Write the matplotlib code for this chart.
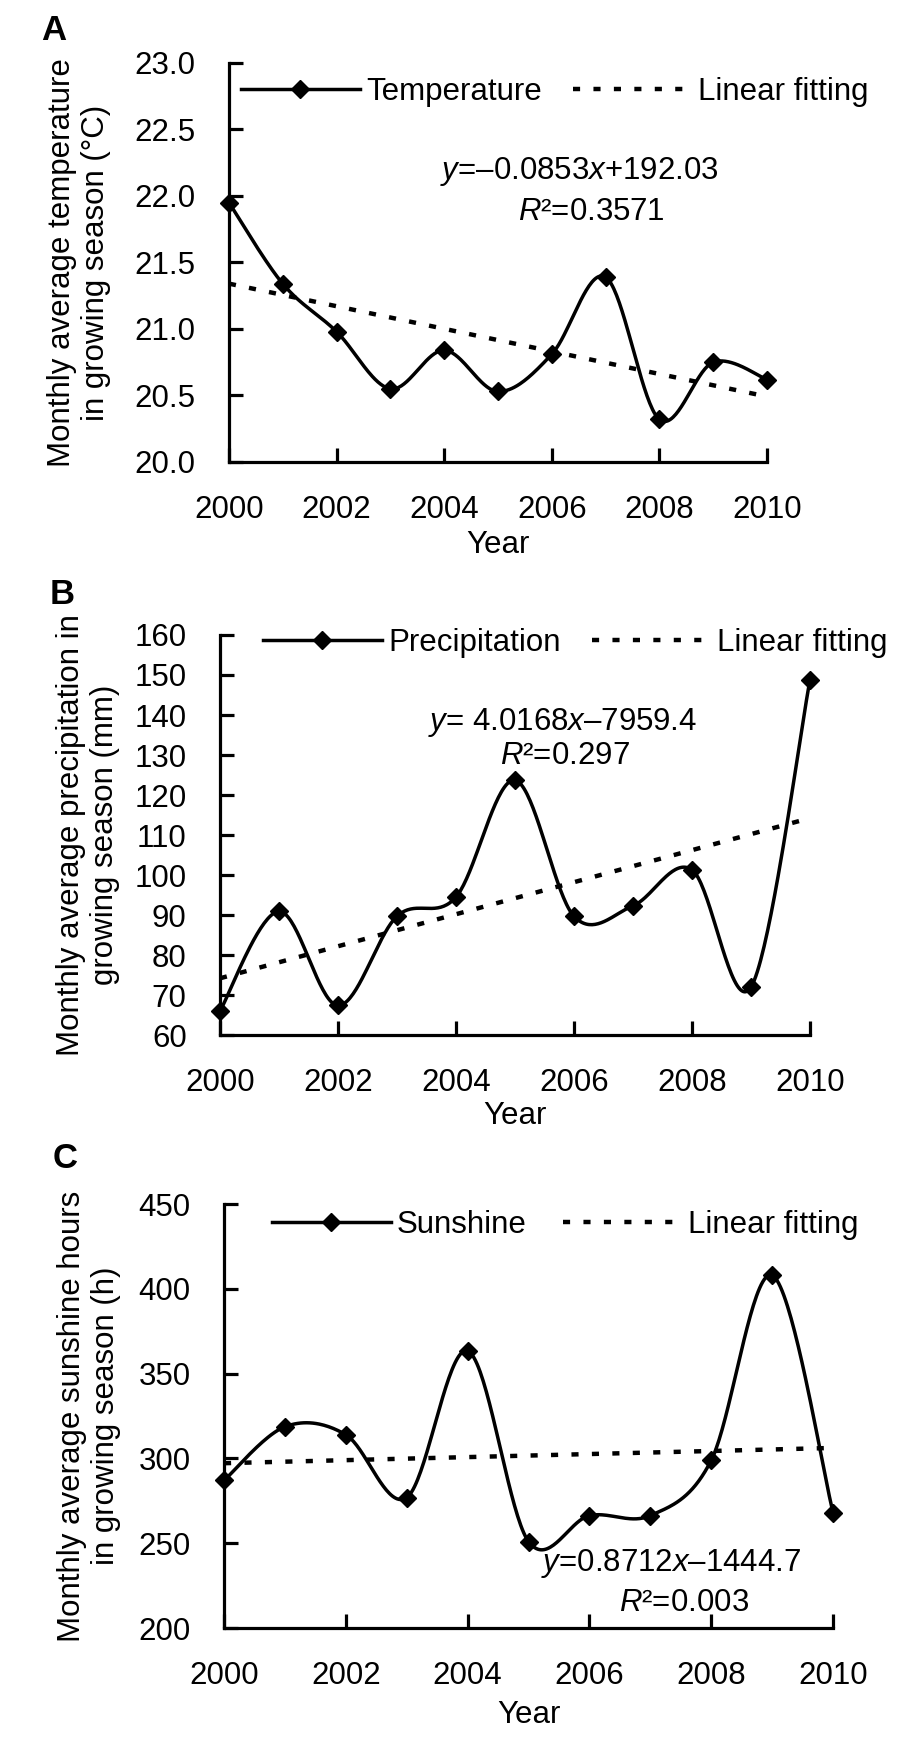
import numpy as np
import matplotlib.pyplot as plt
from matplotlib.lines import Line2D

plt.rcParams['font.family'] = ['Liberation Sans', 'DejaVu Sans']
plt.rcParams['mathtext.fontset'] = 'custom'
plt.rcParams['mathtext.rm'] = 'Liberation Sans'
plt.rcParams['mathtext.it'] = 'Liberation Sans:italic'

years = list(range(2000, 2011))
temperature = [21.95, 21.34, 20.98, 20.55, 20.84, 20.53, 20.81, 21.39, 20.32, 20.75, 20.62]
precipitation = [66.0, 90.9, 67.4, 89.7, 94.5, 123.7, 89.7, 92.3, 101.3, 72.0, 148.8]
sunshine = [287.0, 318.7, 314.0, 276.9, 363.4, 251.0, 266.3, 266.3, 298.9, 408.0, 268.1]

series_names = ['Temperature', 'Precipitation', 'Sunshine']
ylabels = ['Monthly average temperature\nin growing season (°C)',
           'Monthly average precipitation in\ngrowing season (mm)',
           'Monthly average sunshine hours\nin growing season (h)']
equations = ['$\\mathit{y}$=–0.0853$\\mathit{x}$+192.03',
             '$\\mathit{y}$= 4.0168$\\mathit{x}$–7959.4',
             '$\\mathit{y}$=0.8712$\\mathit{x}$–1444.7']
r2_texts = ['$\\mathit{R}$²=0.3571', '$\\mathit{R}$²=0.297', '$\\mathit{R}$²=0.003']
panel_letters = ['A', 'B', 'C']


def smooth(x, y, n=40):
    # Excel-like smoothed line (Catmull-Rom Bezier through the points)
    p = np.column_stack([x, y]).astype(float)
    p = np.vstack([p[0], p, p[-1]])
    t = np.linspace(0, 1, n)[:, None]
    out = []
    for i in range(1, len(p) - 2):
        p0, p1, p2, p3 = p[i - 1], p[i], p[i + 1], p[i + 2]
        c1 = p1 + (p2 - p0) / 6
        c2 = p2 - (p3 - p1) / 6
        seg = ((1 - t) ** 3) * p1 + 3 * ((1 - t) ** 2) * t * c1 + 3 * (1 - t) * t ** 2 * c2 + t ** 3 * p2
        out.append(seg)
    out = np.vstack(out)
    return out[:, 0], out[:, 1]


fig = plt.figure(figsize=(9, 17.44), dpi=100)
fs = 22.5
dots = (0, (1.6, 3.0))

positions = [[0.2544, 0.7351, 0.5978, 0.2288],
             [0.2444, 0.4065, 0.6556, 0.2294],
             [0.2489, 0.0665, 0.6767, 0.2431]]
ylims = [(20, 23), (60, 160), (200, 450)]
ysteps = [0.5, 10, 50]
yfmts = ['{:.1f}', '{:.0f}', '{:.0f}']
legend_pos = [(0.022, 0.927), (0.073, 0.98), (0.079, 0.95)]
colspace = [1.0, 1.0, 1.15]
ylabel_x = [-0.279, -0.224, -0.222]
xlabel_y = [-0.208, -0.2025, -0.205]
eq_pos = [(0.652, 0.727), (0.580, 0.7825), (0.734, 0.153)]
r2_pos = [(0.673, 0.627), (0.585, 0.6975), (0.755, 0.059)]
letter_pos = [(54, 31), (62, 594), (65, 1158)]

all_values = [temperature, precipitation, sunshine]

for k in range(3):
    ax = fig.add_axes(positions[k])
    vals = all_values[k]
    sx, sy = smooth(years, vals)
    ax.plot(sx, sy, color='black', lw=2.5, clip_on=False, zorder=3)
    ax.plot(years, vals, ls='none', marker='D', ms=9, color='black', clip_on=False, zorder=4)
    coef = np.polyfit(years, vals, 1)
    fit = np.polyval(coef, [years[0], years[-1]])
    ax.plot([years[0], years[-1]], fit, color='black', lw=3.2, ls=dots, zorder=2)

    ax.set_xlim(2000, 2010)
    ax.set_ylim(*ylims[k])
    ax.set_xticks(range(2000, 2011, 2))
    yt = np.arange(ylims[k][0], ylims[k][1] + ysteps[k] / 2, ysteps[k])
    ax.set_yticks(yt)
    ax.set_yticklabels([yfmts[k].format(v) for v in yt])
    ax.tick_params(direction='in', length=10, width=2.3, labelsize=fs, pad=24)
    for s in ['top', 'right']:
        ax.spines[s].set_visible(False)
    for s in ['left', 'bottom']:
        ax.spines[s].set_linewidth(2.3)

    ax.set_ylabel(ylabels[k], fontsize=fs, va='center', linespacing=1.15)
    ax.yaxis.set_label_coords(ylabel_x[k], 0.5)
    ax.set_xlabel('Year', fontsize=fs, va='center')
    ax.xaxis.set_label_coords(0.5, xlabel_y[k])

    h1 = Line2D([], [], color='black', lw=2.5, marker='D', ms=9)
    h2 = Line2D([], [], color='black', lw=3.2, ls=dots)
    ax.legend([h1, h2], [series_names[k], 'Linear fitting'], ncol=2, loc='center left',
              bbox_to_anchor=legend_pos[k], frameon=False, fontsize=fs, handlelength=3.8,
              handletextpad=0.2, columnspacing=colspace[k], borderpad=0, borderaxespad=0)

    ax.text(*eq_pos[k], equations[k], transform=ax.transAxes, ha='center', va='center', fontsize=fs)
    ax.text(*r2_pos[k], r2_texts[k], transform=ax.transAxes, ha='center', va='center', fontsize=fs)

    lx, ly = letter_pos[k]
    fig.text(lx / 900, 1 - ly / 1744, panel_letters[k], fontsize=25, fontweight='bold',
             ha='center', va='center')

fig.savefig('out.png', dpi=100, facecolor='white')
